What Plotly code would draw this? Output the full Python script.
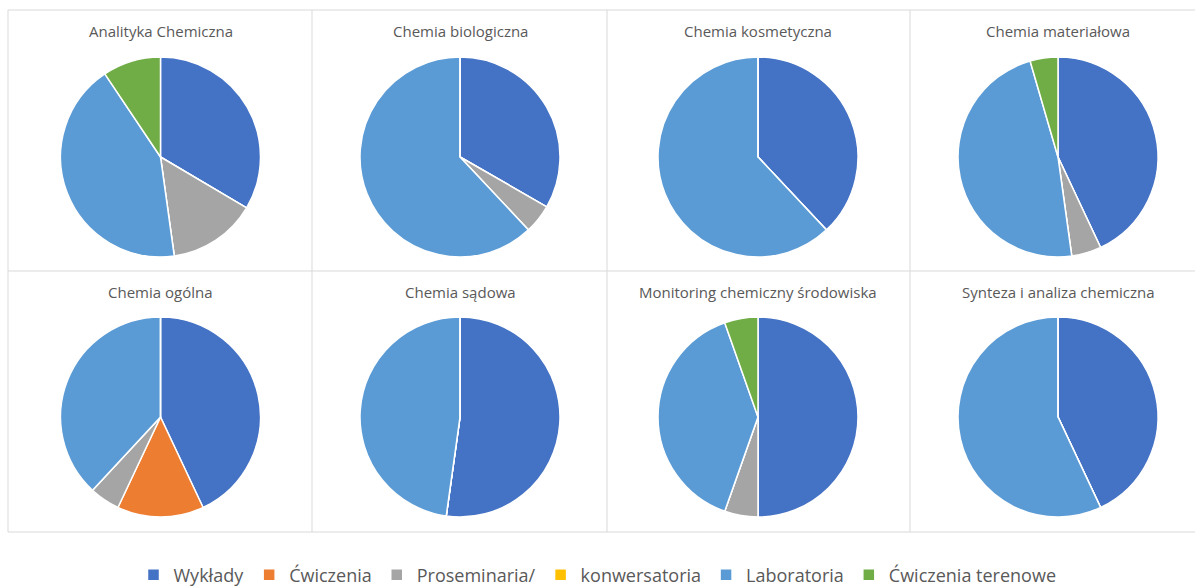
import plotly.graph_objects as go

# Course categories (legend order) and their colours
categories = ["Wykłady", "Ćwiczenia", "Proseminaria/", "konwersatoria", "Laboratoria", "Ćwiczenia terenowe"]
colors = ["#4472C4", "#ED7D31", "#A5A5A5", "#FFC000", "#5B9BD5", "#70AD47"]

# Share of teaching hours per specialisation (%), same order as categories
analityka_chemiczna = [33.5, 0, 14.3, 0, 42.8, 9.4]
chemia_biologiczna = [33.3, 0, 4.7, 0, 62.0, 0]
chemia_kosmetyczna = [38.0, 0, 0, 0, 62.0, 0]
chemia_materialowa = [43.0, 0, 4.8, 0, 47.7, 4.5]
chemia_ogolna = [43.0, 14.0, 4.9, 0, 38.1, 0]
chemia_sadowa = [52.2, 0, 0, 0, 47.8, 0]
monitoring_srodowiska = [50.0, 0, 5.4, 0, 39.2, 5.4]
synteza_analiza = [43.0, 0, 0, 0, 57.0, 0]

titles = ["Analityka Chemiczna", "Chemia biologiczna", "Chemia kosmetyczna", "Chemia materiałowa",
          "Chemia ogólna", "Chemia sądowa", "Monitoring chemiczny środowiska", "Synteza i analiza chemiczna"]
series = [analityka_chemiczna, chemia_biologiczna, chemia_kosmetyczna, chemia_materialowa,
          chemia_ogolna, chemia_sadowa, monitoring_srodowiska, synteza_analiza]

W, H = 1195, 587
FONT = "Open Sans"
TEXT = "#595959"
GRID = "#D9D9D9"

# layout of the 2x4 panel grid, in pixels
col_edges = [8, 312, 607, 910, 1195]
row_edges = [10, 271, 532]
centers_x = [160.5, 460, 758, 1058]
centers_y = [157, 417]
title_y = [31, 292]
radius = 100

fig = go.Figure()
annotations = []
for i, (name, vals) in enumerate(zip(titles, series)):
    r, c = divmod(i, 4)
    cx, cy = centers_x[c], centers_y[r]
    fig.add_trace(go.Pie(
        labels=categories,
        values=vals,
        marker=dict(colors=colors, line=dict(color="white", width=1.5)),
        sort=False,
        direction="clockwise",
        rotation=0,
        textinfo="none",
        hoverinfo="label+percent",
        name=name,
        domain=dict(x=[(cx - radius) / W, (cx + radius) / W],
                    y=[1 - (cy + radius) / H, 1 - (cy - radius) / H]),
    ))
    annotations.append(dict(
        text=name, x=cx / W, y=1 - title_y[r] / H, xref="paper", yref="paper",
        xanchor="center", yanchor="middle", showarrow=False,
        font=dict(family=FONT, size=15, color=TEXT),
    ))

# panel borders
shapes = []
for y in row_edges:
    shapes.append(dict(type="line", xref="paper", yref="paper",
                       x0=col_edges[0] / W, x1=1, y0=1 - y / H, y1=1 - y / H,
                       line=dict(color=GRID, width=1)))
for x in col_edges[:-1]:
    shapes.append(dict(type="line", xref="paper", yref="paper",
                       x0=x / W, x1=x / W, y0=1 - row_edges[0] / H, y1=1 - row_edges[-1] / H,
                       line=dict(color=GRID, width=1)))

fig.update_layout(
    width=W, height=H,
    margin=dict(l=0, r=0, t=0, b=0, autoexpand=False),
    paper_bgcolor="white", plot_bgcolor="white",
    annotations=annotations,
    shapes=shapes,
    showlegend=True,
    legend=dict(orientation="h", x=0.5, xanchor="center", y=1 - 575 / H, yanchor="middle",
                font=dict(family=FONT, size=18, color=TEXT), traceorder="normal",
                itemwidth=30),
)

fig.write_html("out.html")
